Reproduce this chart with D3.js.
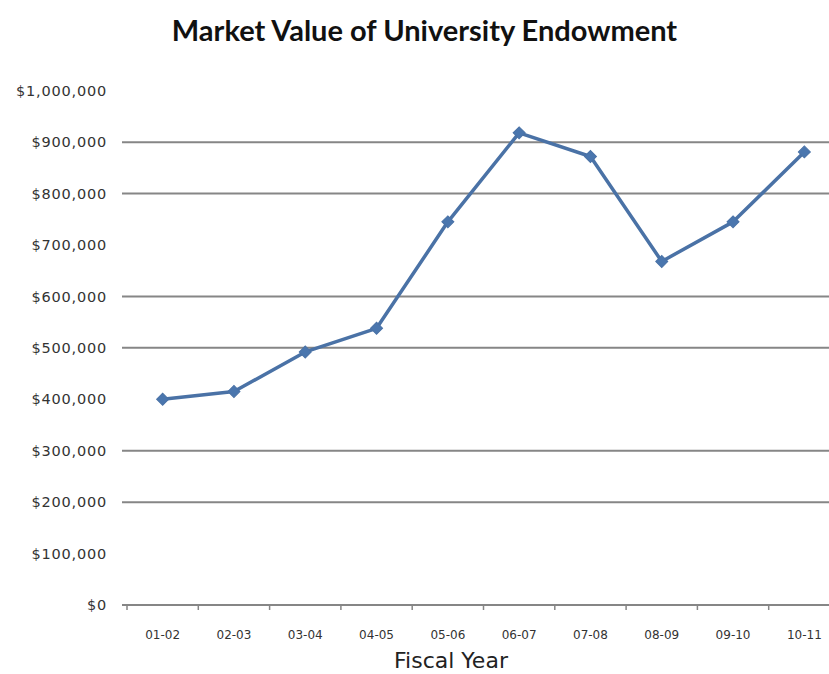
<!DOCTYPE html>
<html>
<head>
<meta charset="utf-8">
<script src="https://cdn.jsdelivr.net/npm/d3@7"></script>
<style>
	html, body { margin: 0; padding: 0; background: #fff; }
	svg { display: block; }
</style>
</head>
<body>
<div id="chart"></div>
<script>
// values
const fiscalYears = ['01-02', '02-03', '03-04', '04-05', '05-06', '06-07', '07-08', '08-09', '09-10', '10-11'];
const marketValues = [400000, 415000, 492000, 538000, 745000, 918000, 872000, 668000, 745000, 881000];
const yTickValues = [0, 100000, 200000, 300000, 400000, 500000, 600000, 700000, 800000, 900000, 1000000];
// only these gridlines show in the reference
const gridValues = [200000, 300000, 500000, 600000, 800000, 900000];

let width = 829,
	height = 674;

const svg = d3
	.select('#chart')
	.append('svg')
	.attr('width', width)
	.attr('height', height);

svg.append('rect').attr('width', width).attr('height', height).attr('fill', '#fff');

let x = d3.scaleBand().domain(fiscalYears).range([127, 840]);
let y = d3.scaleLinear().domain([0, 1000000]).range([605, 90.7]);

// gridlines
svg.append('g')
	.selectAll('line')
	.data(gridValues)
	.enter()
	.append('line')
	.attr('x1', 122)
	.attr('x2', width)
	.attr('y1', (d) => y(d))
	.attr('y2', (d) => y(d))
	.attr('stroke', '#868686')
	.attr('stroke-width', 2);

// y axis labels
const yAxis = svg
	.append('g')
	.attr('transform', 'translate(107,0)')
	.call(d3.axisLeft(y).tickValues(yTickValues).tickFormat(d3.format('$,')).tickSize(0).tickPadding(0));
yAxis.select('.domain').remove();
yAxis.selectAll('text')
	.style('font-family', 'DejaVu Sans')
	.style('font-size', '14.5px')
	.style('letter-spacing', '0.8px')
	.attr('fill', '#333');

// x axis line + tick marks at category boundaries
svg.append('line')
	.attr('x1', 122)
	.attr('x2', width)
	.attr('y1', y(0))
	.attr('y2', y(0))
	.attr('stroke', '#868686')
	.attr('stroke-width', 2);

const bounds = fiscalYears.map((d) => x(d)).concat([x.range()[1]]);
svg.append('g')
	.selectAll('line')
	.data(bounds)
	.enter()
	.append('line')
	.attr('x1', (d) => d)
	.attr('x2', (d) => d)
	.attr('y1', y(0))
	.attr('y2', y(0) + 5)
	.attr('stroke', '#868686')
	.attr('stroke-width', 1.5);

const xAxis = svg
	.append('g')
	.attr('transform', 'translate(0,' + y(0) + ')')
	.call(d3.axisBottom(x).tickSize(0).tickPadding(25));
xAxis.select('.domain').remove();
xAxis.selectAll('text')
	.style('font-family', 'DejaVu Sans')
	.style('font-size', '12px')
	.attr('fill', '#333');

// the line
const line = d3
	.line()
	.x((d, i) => x(fiscalYears[i]) + x.bandwidth() / 2)
	.y((d) => y(d));

svg.append('path')
	.datum(marketValues)
	.attr('d', line)
	.attr('fill', 'none')
	.attr('stroke', '#4A72A6')
	.attr('stroke-width', 3.5)
	.attr('stroke-linejoin', 'round');

// diamond markers
svg.append('g')
	.selectAll('path')
	.data(marketValues)
	.enter()
	.append('path')
	.attr('d', d3.symbol().type(d3.symbolSquare).size(72))
	.attr('transform', function (d, i) {
		return 'translate(' + (x(fiscalYears[i]) + x.bandwidth() / 2) + ',' + y(d) + ') rotate(45)';
	})
	.attr('fill', '#4A76AE')
	.attr('stroke', '#4A72A6')
	.attr('stroke-width', 1);

// titles
svg.append('text')
	.attr('x', 424.5)
	.attr('y', 41)
	.attr('text-anchor', 'middle')
	.style('font-family', 'Lato')
	.style('font-weight', 'bold')
	.style('font-size', '29px')
	.attr('fill', '#111')
	.text('Market Value of University Endowment');

svg.append('text')
	.attr('x', 451)
	.attr('y', 668)
	.attr('text-anchor', 'middle')
	.style('font-family', 'DejaVu Sans')
	.style('font-size', '22px')
	.attr('fill', '#222')
	.text('Fiscal Year');
</script>
</body>
</html>
